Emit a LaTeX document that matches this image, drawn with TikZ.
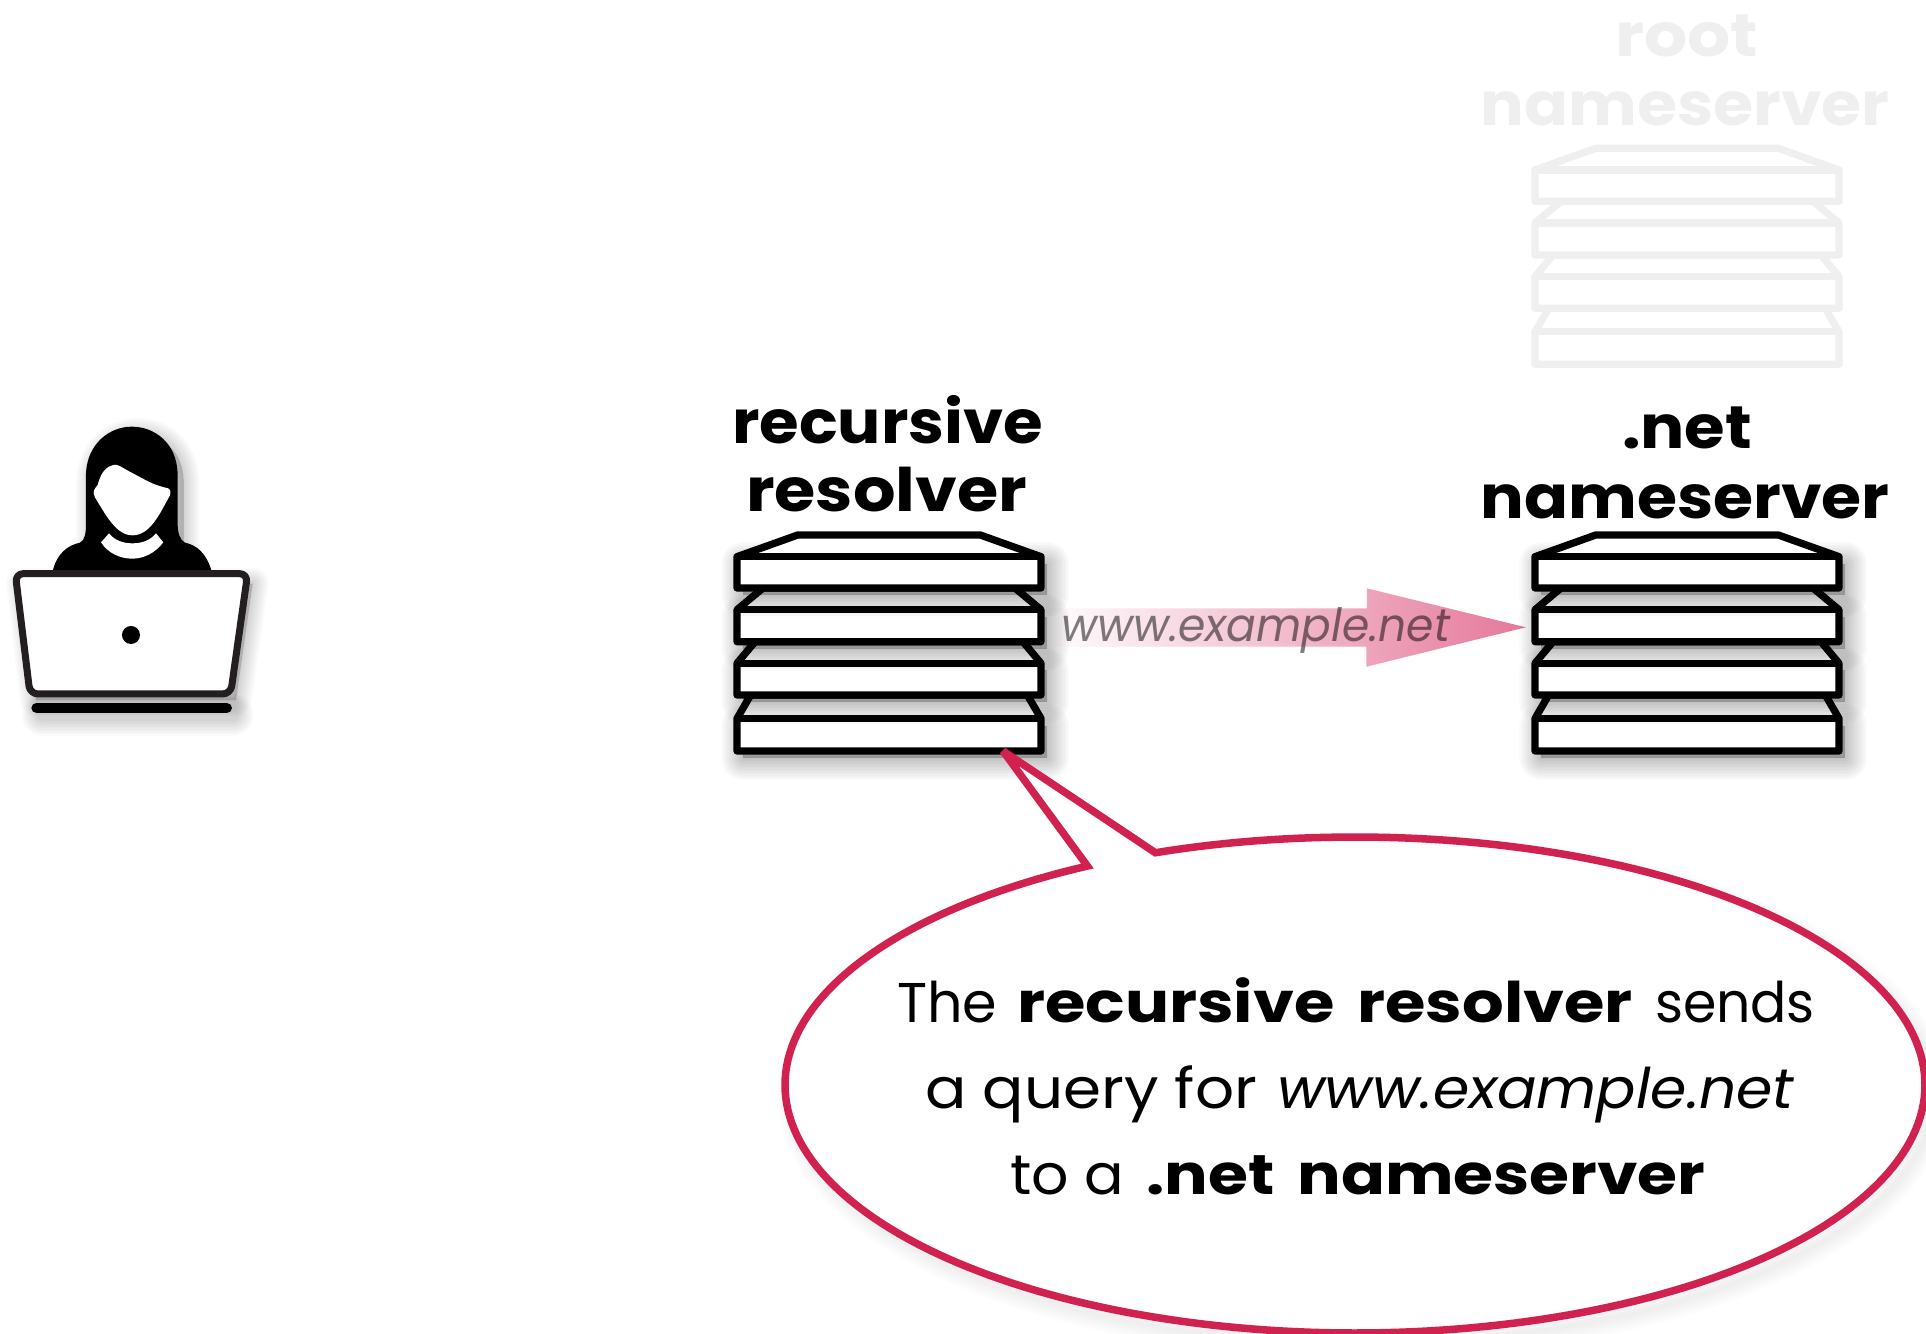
\documentclass[tikz,border=0pt]{standalone}
\usepackage{fontspec}
\setmainfont{Poppins}[BoldFont=Poppins Bold,ItalicFont=Poppins Italic]
\usetikzlibrary{calc}
\definecolor{calloutred}{HTML}{D1214F}
\definecolor{arrowpink}{HTML}{E5789A}
\definecolor{laptopink}{HTML}{231F20}
\definecolor{fadedgray}{HTML}{EFEFEF}
\newcommand\fitto[2]{\setbox0=\hbox{#2}\pgfmathsetmacro\fitratio{#1/\the\wd0}\scalebox{\fitratio}[1]{\box0}}
\newcommand\levelshape[4]{(737,#3) -- (737+#1,#2) -- (1041-#1,#2) -- (1041,#3) -- (1041,#4) -- (737,#4) -- cycle}
% #1 inset, #2 trapezoid top, #3 box top, #4 box bottom
\newcommand\servlevel[4]{%
  \foreach \w in {2,5,...,44}{%
    \filldraw[black,opacity=\sop,line width=\w pt,line join=round,shift={(6,7)}] (737,#3) rectangle (1041,#4);
  }%
  \filldraw[serverline,fill=white] \levelshape{#1}{#2}{#3}{#4};
  \draw[serverline] (737,#3) -- (1041,#3);
}
\newcommand\serverstack[2]{%
  \begin{scope}[shift={(#1,#2)}]
    \servlevel{13.7}{695}{718.5}{751}
    \servlevel{18}{641.7}{663.3}{695}
    \servlevel{26}{588}{609.7}{641.7}
    \servlevel{60.7}{535}{556.7}{588}
  \end{scope}
}
\tikzset{
  serverline/.style={draw=\scol,line width=7.3pt,line join=round},
  anchorbox/.style={minimum width=312pt,minimum height=222pt,inner sep=0pt},
  labeltext/.style={anchor=base,inner sep=0pt,text=black},
  fadedtext/.style={anchor=base,inner sep=0pt,text=fadedgray},
  bodytext/.style={anchor=base,inner sep=0pt,text=black},
}
\newcommand\boldsize{\fontsize{60}{60}\selectfont\bfseries}
\newcommand\bodysize{\fontsize{56}{56}\selectfont}
\begin{document}
\begin{tikzpicture}[x=1pt,y=-1pt]
\useasboundingbox (0,0) rectangle (1926,1333);
\fill[white] (0,0) rectangle (1926,1333);

% root (faded) server
\def\scol{fadedgray}\def\sop{0.0012}
\serverstack{798}{-386.7}
\node[anchorbox] (root) at (1687,257) {};
\node[fadedtext] (rootl1) at (1687,56) {\fitto{143}{\boldsize root}};
\node[fadedtext] (rootl2) at (1685,125.5) {\fitto{409}{\boldsize nameserver}};

% named anchors
\node[anchorbox] (resolver) at (889,644) {};
\node[anchorbox] (net) at (1687,644) {};
\coordinate (arrowtail) at (resolver.east |- 0,627.3);
\coordinate (arrowtip) at ($(net.west |- 0,627.3)+(-5,0)$);

% arrow
\shade[left color=white,right color=arrowpink]
  (arrowtail) ++(0,-19) -- ++(321.6,0) -- ++(0,-20) -- (arrowtip)
  -- ++(-159.4,39.4) -- ++(0,-20) -- ++(-321.6,0) -- cycle;

% servers
\def\scol{black}\def\sop{0.016}
\serverstack{0}{0}
\serverstack{798}{0}

% arrow label
\node[anchor=base,inner sep=0pt,text=black,text opacity=0.5] (query) at (1255.5,641)
  {\fitto{389}{\fontsize{46}{46}\selectfont\itshape www.example.net}};

% server labels
\node[labeltext] (rl1) at (887.5,443) {\fitto{311}{\boldsize recursive}};
\node[labeltext] (rl2) at (886.5,511.5) {\fitto{281}{\boldsize resolver}};
\node[labeltext] (nl1) at (1687,448.5) {\fitto{130}{\boldsize .net}};
\node[labeltext] (nl2) at (1685,518) {\fitto{409}{\boldsize nameserver}};

% user with laptop
\begin{scope}[shift={(0,410)},x=0.3333pt,y=-0.3333pt]
  \foreach \w in {2,5,...,32}{%
    \begin{scope}[shift={(18,21)}]
      \filldraw[black,opacity=0.014,line width=\w pt,line join=round]
        (258,340) -- (258,190) .. controls (262,100) and (330,50) .. (395,50)
        .. controls (465,50) and (530,100) .. (533,190) -- (533,340) -- (533,480) -- (258,480) -- cycle;
      \filldraw[black,opacity=0.014,line width=\w pt,line join=round]
        (48,500) -- (740,500) -- (690,850) -- (90,850) -- cycle;
      \draw[black,opacity=0.014,line width=10+\w,line cap=round] (110,894) -- (680,894);
    \end{scope}
  }
  \fill[black]
    (158,484) .. controls (170,430) and (205,405) .. (240,398)
    .. controls (255,390) and (258,370) .. (258,340) -- (258,190)
    .. controls (262,100) and (330,50) .. (395,50)
    .. controls (465,50) and (530,100) .. (533,190) -- (533,340)
    .. controls (533,370) and (540,390) .. (555,398)
    .. controls (590,405) and (620,430) .. (635,484) -- cycle;
  \fill[white]
    (340,165) .. controls (355,162) and (365,172) .. (380,180)
    -- (440,212) .. controls (465,225) and (490,232) .. (505,235)
    .. controls (515,240) and (512,255) .. (505,265)
    .. controls (480,310) and (450,376) .. (398,376)
    .. controls (350,376) and (320,320) .. (285,262)
    .. controls (275,245) and (285,235) .. (293,225)
    .. controls (300,200) and (310,172) .. (340,165) -- cycle;
  \fill[white]
    (327,370) .. controls (345,392) and (370,400) .. (397,400)
    .. controls (425,400) and (450,392) .. (468,370)
    -- (490,397) .. controls (465,430) and (430,446) .. (397,446)
    .. controls (360,446) and (325,430) .. (303,397) -- cycle;
  \filldraw[fill=white,draw=laptopink,line width=7pt,rounded corners=8pt,line join=round]
    (46,491) -- (743,491) -- (692,852) -- (90,852) -- cycle;
  \fill[black] (393,675) circle (27);
  \draw[black,line width=10.6pt,line cap=round] (110,894) -- (680,894);
\end{scope}
\node[inner sep=0pt] (user) at (131,635) {};

% callout
\coordinate (callouttip) at (1003,751);
\foreach \w in {4,8,...,32}{%
  \draw[black,opacity=0.007,line width=\w pt,shift={(8,10)}]
    plot[domain=-242:110.5,samples=240] ({1355+570*cos(\x)},{1085-248*sin(\x)});
}
\filldraw[fill=white,draw=calloutred,line width=7.5pt,miter limit=4,line join=miter]
  plot[domain=-242:110.5,samples=240] ({1355+570*cos(\x)},{1085-248*sin(\x)})
  -- (callouttip) -- cycle;

\node[bodytext] (cl1) at (1356,1022)
  {\bodysize\fitto{100}{The}\hspace{20pt}\fitto{616}{\textbf{recursive\hspace{8pt} resolver}}\hspace{22pt}\fitto{160}{sends}};
\node[bodytext] (cl2) at (1360,1108)
  {\bodysize\fitto{332}{a query for}\hspace{20pt}\fitto{518}{\textit{www.example.net}}};
\node[bodytext] (cl3) at (1358,1194)
  {\bodysize\fitto{114}{to a}\hspace{22pt}\fitto{559}{\textbf{.net\hspace{8pt} nameserver}}};
\end{tikzpicture}
\end{document}
